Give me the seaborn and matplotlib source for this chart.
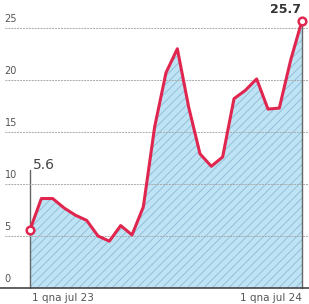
import numpy as np
import pandas as pd
import seaborn as sns
import matplotlib.pyplot as plt

# half-monthly readings, 1 Jul 23 -> 1 Jul 24
values = [5.6, 8.6, 8.6, 7.7, 7.0, 6.5, 5.0, 4.5, 6.0, 5.1, 7.8, 15.5, 20.7,
          23.0, 17.4, 12.9, 11.7, 12.6, 18.2, 19.0, 20.1, 17.2, 17.3, 21.9, 25.7]
yticks = [0, 5, 10, 15, 20, 25]
xlabels = ['1 qna jul 23', '1 qna jul 24']

df = pd.DataFrame({'step': np.arange(len(values)), 'value': values})

sns.set_style('white')
plt.rcParams['hatch.color'] = '#8dbad3'
plt.rcParams['hatch.linewidth'] = 0.6

fig = plt.figure(figsize=(3.09, 3.04), dpi=100)
ax = fig.add_axes([0, 0, 1, 1])
ax.set_xlim(-2.65, 24.62)
ax.set_ylim(-1.54, 27.69)
ax.axis('off')

# grid lines + labels
for t in yticks[1:]:
    ax.plot([-2.2, 24.62], [t, t], color='#aaaaaa', lw=0.7, ls=(0, (2, 1)),
            zorder=3)
for t in yticks:
    ax.text(-2.25, t + 0.35, str(t), fontsize=7, color='#555555',
            ha='left', va='bottom')

# baseline
ax.plot([-2.65, 24.62], [0, 0], color='#444444', lw=1.2, zorder=4)

# filled hatched area
ax.fill_between(df['step'], df['value'], 0, facecolor='#bde3f5',
                edgecolor='#8dbad3', hatch='////', lw=0, zorder=1)

# start / end verticals
ax.plot([0, 0], [0, 11.3], color='#666666', lw=1, zorder=2)
ax.plot([24, 24], [0, 25.7], color='#666666', lw=1, zorder=2)

sns.lineplot(data=df, x='step', y='value', ax=ax, color='#e0264f', lw=2.2,
             zorder=5)
ax.plot([0, 24], [values[0], values[-1]], ls='none', marker='o', ms=5.5,
        mfc='white', mec='#e0264f', mew=1.8, zorder=6)

ax.text(0.25, 11.2, '5.6', fontsize=10, color='#444444', ha='left',
        va='bottom')
ax.text(23.9, 26.4, '25.7', fontsize=9, fontweight='bold', color='#333333',
        ha='right', va='baseline')

ax.text(0.15, -1.0, xlabels[0], fontsize=7.5, color='#555555', ha='left',
        va='center')
ax.text(24.0, -1.0, xlabels[1], fontsize=7.5, color='#555555', ha='right',
        va='center')

fig.savefig('out.png', dpi=100)
